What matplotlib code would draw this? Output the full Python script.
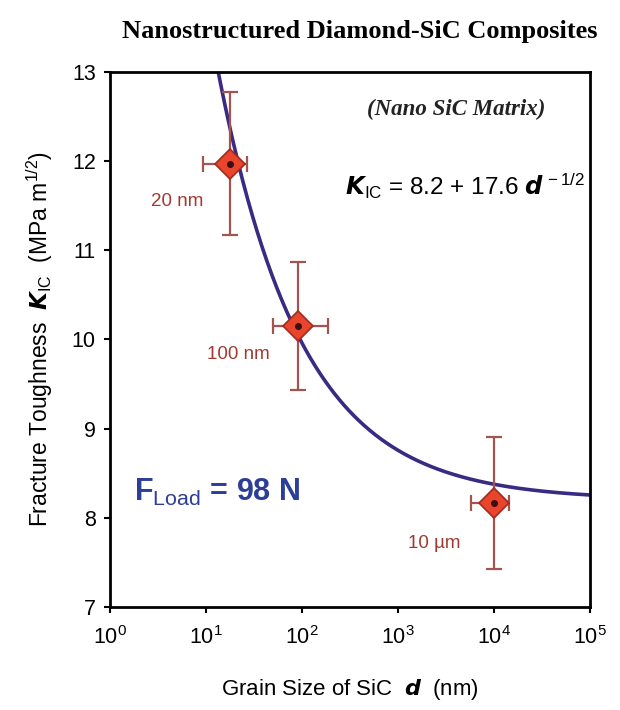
import numpy as np
import matplotlib
matplotlib.use("Agg")
import matplotlib.pyplot as plt
from matplotlib.ticker import FixedLocator, FixedFormatter, NullLocator

plt.rcParams['font.family'] = ['Liberation Sans', 'DejaVu Sans']
plt.rcParams['mathtext.fontset'] = 'custom'
plt.rcParams['mathtext.rm'] = 'Liberation Sans'
plt.rcParams['mathtext.it'] = 'Liberation Sans:italic'
plt.rcParams['mathtext.bf'] = 'Liberation Sans:bold'

# Measured grain sizes (nm), toughness (MPa m^1/2) and their spreads
grain_nm = [18, 92, 10000]
toughness = [11.97, 10.15, 8.17]
tough_err = [0.8, 0.72, 0.74]
grain_lo = [9.3, 50, 5800]
grain_hi = [27, 185, 14200]
point_labels = ["20 nm", "100 nm", "10 \u00b5m"]

# Hall-Petch type fit: K_IC = 8.2 + 17.6 d^-1/2
fit_a, fit_b = 8.2, 17.6

x_ticks = [1, 10, 100, 1000, 10000, 100000]
x_tick_labels = [r"$10^{0}$", r"$10^{1}$", r"$10^{2}$", r"$10^{3}$", r"$10^{4}$", r"$10^{5}$"]
y_ticks = [7, 8, 9, 10, 11, 12, 13]

fig = plt.figure(figsize=(6.2, 7.1), dpi=100)
ax = fig.add_axes([0.177, 0.145, 0.775, 0.754])

d = np.logspace(0, 5, 600)
ax.plot(d, fit_a + fit_b * d ** -0.5, color="#3b2a82", lw=2.6, zorder=2)

g = np.array(grain_nm, float)
xerr = [g - np.array(grain_lo), np.array(grain_hi) - g]
ax.errorbar(g, toughness, yerr=tough_err, xerr=xerr, fmt='none',
            ecolor="#a4544e", elinewidth=1.6, capsize=6, capthick=1.6, zorder=3)
ax.plot(g, toughness, 'D', ms=15, mfc="#e8452c", mec="#a02a20", mew=1.2, zorder=4)
ax.plot(g, toughness, 'o', ms=4, color="#3a1010", zorder=5)

label_pos = [(5.0, 11.55), (22, 9.83), (2370, 7.71)]
for (lx, ly), txt in zip(label_pos, point_labels):
    ax.text(lx, ly, txt, color="#a03a30", fontsize=13.5, ha='center', va='center')

ax.set_xscale('log')
ax.set_xlim(1, 1e5)
ax.set_ylim(7, 13)
ax.xaxis.set_major_locator(FixedLocator(x_ticks))
ax.xaxis.set_major_formatter(FixedFormatter(x_tick_labels))
ax.xaxis.set_minor_locator(NullLocator())
ax.yaxis.set_major_locator(FixedLocator(y_ticks))
ax.tick_params(axis='both', direction='out', length=4, width=1.5, labelsize=15.5, pad=6)
ax.tick_params(axis='x', pad=10)
for s in ax.spines.values():
    s.set_linewidth(2)
    s.set_color('black')

ax.text(0.535, 0.93, "(Nano SiC Matrix)", transform=ax.transAxes, ha='left', va='center',
        fontsize=16.5, family='Liberation Serif', style='italic', weight='bold', color='#222222')
ax.text(0.49, 0.785, r"$\mathbfit{K}_{\mathrm{IC}}$ = 8.2 + 17.6 $\mathbfit{d}^{\,-1/2}$",
        transform=ax.transAxes, ha='left', va='center', fontsize=17.5, color='black')
ax.text(0.05, 0.215, r"F$_{\mathrm{Load}}$ = 98 N", transform=ax.transAxes, ha='left',
        va='center', fontsize=22, weight='bold', color='#2c3f98')

fig.text(0.58, 0.955, "Nanostructured Diamond-SiC Composites", ha='center', va='center',
         fontsize=19, family='Liberation Serif', weight='bold')

ax.set_xlabel(r"Grain Size of SiC  $\mathbfit{d}$  (nm)", fontsize=16, labelpad=20)
ax.set_ylabel(r"Fracture Toughness  $\mathbfit{K}_{\mathrm{IC}}$  (MPa m$^{1/2}$)", fontsize=16.5,
              labelpad=12)

fig.savefig("out.png", dpi=100, facecolor='white')
